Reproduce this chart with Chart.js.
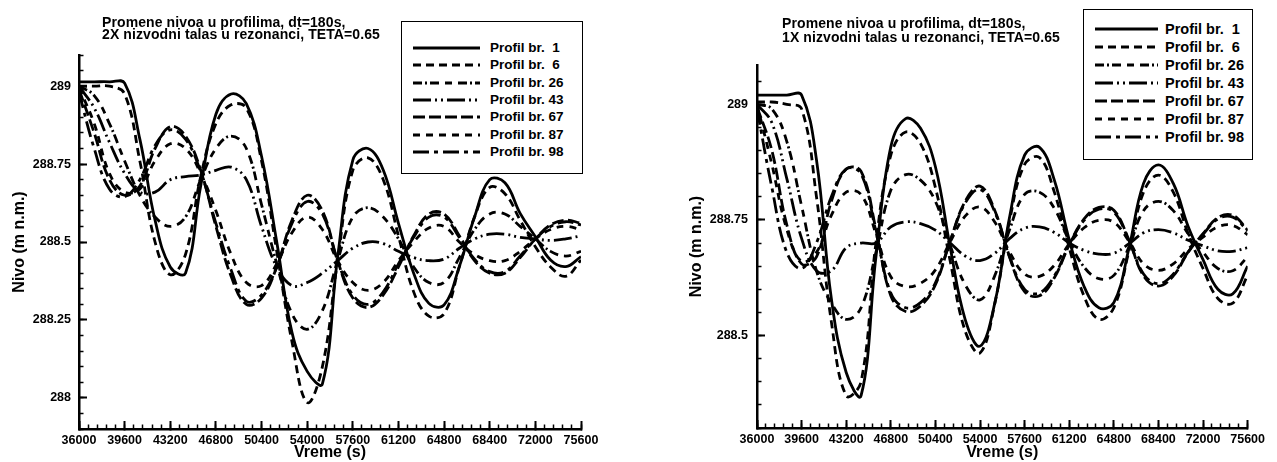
<!DOCTYPE html>
<html>
<head>
<meta charset="utf-8">
<script src="https://cdn.jsdelivr.net/npm/chart.js@4.4.1/dist/chart.umd.min.js"></script>
<style>
  html, body { margin:0; padding:0; background:#fff; }
  body { width:1277px; height:462px; position:relative; overflow:hidden; font-family:"Liberation Sans", Arial, Helvetica, sans-serif; color:#000; }
  canvas { position:absolute; top:0; }
  .ttl { position:absolute; font-weight:bold; font-size:14px; letter-spacing:0.1px; white-space:pre; line-height:12px; }
  .lbox { position:absolute; border:1.5px solid #000; box-sizing:border-box; background:#fff; }
  .ltxt { position:absolute; font-weight:bold; white-space:pre; line-height:16px; }
  .lsvg { position:absolute; overflow:visible; }
</style>
</head>
<body>
<canvas id="c1" width="640" height="462" style="left:0px"></canvas>
<canvas id="c2" width="637" height="462" style="left:640px"></canvas>
<div class="ttl" style="left:102px;top:15.5px;">Promene nivoa u profilima, dt=180s,
2X nizvodni talas u rezonanci, TETA=0.65</div>
<div class="ttl" style="left:782px;top:16px;line-height:14px;">Promene nivoa u profilima, dt=180s,
1X nizvodni talas u rezonanci, TETA=0.65</div>
<div id="leg1"></div>
<div id="leg2"></div>
<script>
// ---------------- data ----------------
const times = [36000, 37200, 38400, 39600, 40800, 42000, 43200, 44400, 45600, 46800, 48000, 49200,
  50400, 51600, 52800, 54000, 55200, 56400, 57600, 58800, 60000, 61200, 62400, 63600, 64800, 66000,
  67200, 68400, 69600, 70800, 72000, 73200, 74400, 75600];

const seriesNames = ['Profil br.  1', 'Profil br.  6', 'Profil br. 26', 'Profil br. 43',
  'Profil br. 67', 'Profil br. 87', 'Profil br. 98'];

// Left chart: 2X nizvodni talas
const left_p1 = [289.014, 289.014, 289.014, 289.01, 288.83, 288.57, 288.42, 288.40, 288.68, 288.91, 288.975, 288.944,
  288.775, 288.50, 288.21, 288.085, 288.045, 288.45, 288.763, 288.80, 288.731, 288.56, 288.40, 288.303, 288.298, 288.421,
  288.58, 288.70, 288.69, 288.592, 288.517, 288.442, 288.421, 288.453];
const left_p6 = [289.0, 289.0, 289.0, 288.975, 288.76, 288.50, 288.395, 288.46, 288.71, 288.88, 288.94, 288.93,
  288.76, 288.47, 288.18, 287.985, 288.10, 288.44, 288.73, 288.77, 288.70, 288.52, 288.34, 288.262, 288.27, 288.42,
  288.58, 288.675, 288.655, 288.57, 288.485, 288.42, 288.39, 288.442];
const left_p26 = [289.0, 288.97, 288.88, 288.76, 288.65, 288.58, 288.55, 288.58, 288.70, 288.80, 288.84, 288.80,
  288.62, 288.43, 288.27, 288.22, 288.28, 288.44, 288.58, 288.61, 288.58, 288.51, 288.42, 288.37, 288.37, 288.45,
  288.54, 288.59, 288.59, 288.55, 288.51, 288.47, 288.455, 288.47];
const left_p43 = [289.0, 288.93, 288.82, 288.72, 288.66, 288.66, 288.70, 288.71, 288.715, 288.73, 288.74, 288.70,
  288.55, 288.42, 288.36, 288.37, 288.40, 288.44, 288.48, 288.50, 288.495, 288.47, 288.45, 288.44, 288.445, 288.48,
  288.51, 288.525, 288.525, 288.515, 288.51, 288.505, 288.51, 288.52];
const left_p67 = [288.99, 288.85, 288.70, 288.65, 288.68, 288.80, 288.87, 288.84, 288.73, 288.55, 288.39, 288.30,
  288.32, 288.42, 288.57, 288.65, 288.60, 288.44, 288.32, 288.29, 288.33, 288.42, 288.52, 288.59, 288.59, 288.52,
  288.44, 288.40, 288.40, 288.45, 288.51, 288.555, 288.57, 288.56];
const left_p87 = [288.995, 288.88, 288.72, 288.66, 288.67, 288.76, 288.815, 288.80, 288.72, 288.60, 288.46, 288.37,
  288.36, 288.43, 288.53, 288.58, 288.54, 288.44, 288.37, 288.345, 288.37, 288.44, 288.50, 288.545, 288.55, 288.50,
  288.46, 288.44, 288.44, 288.47, 288.51, 288.54, 288.55, 288.54];
const left_p98 = [288.98, 288.80, 288.67, 288.645, 288.70, 288.81, 288.86, 288.83, 288.725, 288.56, 288.41, 288.31,
  288.33, 288.42, 288.56, 288.63, 288.59, 288.44, 288.33, 288.30, 288.34, 288.43, 288.515, 288.58, 288.58, 288.515,
  288.445, 288.405, 288.405, 288.455, 288.51, 288.55, 288.565, 288.555];

// Right chart: 1X nizvodni talas
const right_p1 = [289.02, 289.02, 289.02, 289.02, 288.88, 288.58, 288.42, 288.37, 288.67, 288.908, 288.969, 288.948,
  288.865, 288.69, 288.535, 288.477, 288.571, 288.758, 288.89, 288.907, 288.836, 288.707, 288.606, 288.56, 288.571, 288.686,
  288.829, 288.869, 288.829, 288.736, 288.664, 288.60, 288.59, 288.65];
const right_p6 = [289.005, 289.005, 289.0, 288.99, 288.80, 288.53, 288.37, 288.40, 288.70, 288.89, 288.94, 288.915,
  288.82, 288.66, 288.51, 288.462, 288.57, 288.75, 288.87, 288.885, 288.81, 288.69, 288.585, 288.535, 288.56, 288.68,
  288.81, 288.847, 288.81, 288.72, 288.645, 288.58, 288.57, 288.63];
const right_p26 = [289.0, 288.99, 288.92, 288.78, 288.64, 288.57, 288.535, 288.56, 288.68, 288.814, 288.848, 288.836,
  288.79, 288.695, 288.61, 288.577, 288.63, 288.73, 288.805, 288.81, 288.775, 288.704, 288.648, 288.623, 288.63, 288.69,
  288.77, 288.79, 288.77, 288.72, 288.68, 288.645, 288.64, 288.67];
const right_p43 = [289.0, 288.96, 288.84, 288.71, 288.64, 288.64, 288.69, 288.70, 288.70, 288.735, 288.746, 288.742,
  288.728, 288.70, 288.672, 288.662, 288.678, 288.71, 288.732, 288.735, 288.723, 288.70, 288.684, 288.676, 288.678, 288.698,
  288.722, 288.729, 288.722, 288.706, 288.694, 288.683, 288.682, 288.69];
const right_p67 = [288.995, 288.90, 288.74, 288.655, 288.67, 288.79, 288.86, 288.855, 288.73, 288.586, 288.552, 288.564,
  288.61, 288.705, 288.79, 288.823, 288.77, 288.668, 288.595, 288.586, 288.625, 288.696, 288.752, 288.777, 288.771, 288.708,
  288.629, 288.607, 288.629, 288.68, 288.72, 288.755, 288.76, 288.728];
const right_p87 = [289.0, 288.87, 288.73, 288.66, 288.68, 288.76, 288.81, 288.805, 288.72, 288.627, 288.606, 288.613,
  288.642, 288.703, 288.758, 288.778, 288.745, 288.68, 288.633, 288.628, 288.652, 288.698, 288.733, 288.749, 288.745, 288.705,
  288.655, 288.641, 288.655, 288.687, 288.713, 288.735, 288.738, 288.718];
const right_p98 = [288.99, 288.82, 288.68, 288.645, 288.70, 288.80, 288.86, 288.85, 288.725, 288.592, 288.56, 288.571,
  288.614, 288.705, 288.786, 288.816, 288.767, 288.67, 288.60, 288.592, 288.629, 288.696, 288.749, 288.773, 288.767, 288.707,
  288.633, 288.612, 288.633, 288.681, 288.719, 288.752, 288.756, 288.726];

// tick labels
const xTickLabels = [36000, 39600, 43200, 46800, 50400, 54000, 57600, 61200, 64800, 68400, 72000, 75600];
const yTickLabelsLeft = [288, 288.25, 288.5, 288.75, 289];
const yTickLabelsRight = [288.5, 288.75, 289];

// ---------------- styles ----------------
const FONT = '"Liberation Sans", Arial, Helvetica, sans-serif';
const lineDash = [[], [8, 5], [9, 3, 2, 3, 9, 6, 7, 6], [18, 4, 2, 4, 2, 4], [12, 4], [7, 6], [16, 5, 4, 5]];

Chart.defaults.font.family = FONT;
Chart.defaults.color = '#000';

function rangeTicks(a, b, step) {
  const out = [];
  const n = Math.round((b - a) / step);
  for (let i = 0; i <= n; i++) out.push(+(a + i * step).toFixed(4));
  return out;
}

function buildChart(id, seriesList, o) {
  const datasets = seriesList.map((arr, i) => ({
    label: seriesNames[i],
    data: times.map((t, k) => ({ x: t, y: arr[k] })),
    borderColor: '#000',
    borderWidth: 2.8,
    borderDash: lineDash[i],
    pointRadius: 0,
    tension: 0.4,
    fill: false
  }));
  const xMinor = rangeTicks(36000, 75600, 720);
  const yMinor = rangeTicks(o.yMinorStart, o.yMinorEnd, 0.05);
  return new Chart(document.getElementById(id), {
    type: 'line',
    data: { datasets },
    options: {
      responsive: false, animation: false, devicePixelRatio: 1,
      layout: { padding: o.padding },
      plugins: { legend: { display: false }, title: { display: false }, tooltip: { enabled: false } },
      scales: {
        x: {
          type: 'linear', position: 'bottom', min: 36000, max: 75600, weight: 1,
          afterBuildTicks: s => { s.ticks = xTickLabels.map(v => ({ value: v })); },
          afterFit: s => { s.height = o.xh; },
          ticks: { color: '#000', font: { size: 12.5, weight: 'bold' }, padding: 12, maxRotation: 0, autoSkip: false,
                   callback: v => String(v) },
          grid: { drawOnChartArea: false, drawTicks: true, tickLength: -8, tickWidth: 2, tickColor: '#000' },
          border: { display: true, color: '#000', width: 2.5 },
          title: { display: true, text: 'Vreme (s)', color: '#000', font: { size: 16, weight: 'bold' }, padding: { top: 0, bottom: 0 } }
        },
        xm: {
          type: 'linear', axis: 'x', position: 'bottom', min: 36000, max: 75600, weight: 0,
          afterBuildTicks: s => { s.ticks = xMinor.map(v => ({ value: v })); },
          afterFit: s => { s.height = 0; },
          ticks: { display: false },
          grid: { drawOnChartArea: false, drawTicks: true, tickLength: -4.5, tickWidth: 1.5, tickColor: '#000' },
          border: { display: false }
        },
        y: {
          type: 'linear', position: 'left', min: o.ymin, max: o.ymax, weight: 1,
          afterBuildTicks: s => { s.ticks = o.yTicks.map(v => ({ value: v })); },
          afterFit: s => { s.width = o.yw; },
          ticks: { color: '#000', font: { size: 12.5, weight: 'bold' }, padding: o.ypad, autoSkip: false,
                   callback: v => String(v) },
          grid: { drawOnChartArea: false, drawTicks: true, tickLength: -8, tickWidth: 2, tickColor: '#000' },
          border: { display: true, color: '#000', width: 2.5 },
          title: { display: true, text: 'Nivo (m n.m.)', color: '#000', font: { size: 16, weight: 'bold' }, padding: { top: o.ytitlePad, bottom: 0 } }
        },
        ym: {
          type: 'linear', axis: 'y', position: 'left', min: o.ymin, max: o.ymax, weight: 0,
          afterBuildTicks: s => { s.ticks = yMinor.map(v => ({ value: v })); },
          afterFit: s => { s.width = 0; },
          ticks: { display: false },
          grid: { drawOnChartArea: false, drawTicks: true, tickLength: -4.5, tickWidth: 1.5, tickColor: '#000' },
          border: { display: false }
        }
      }
    }
  });
}

buildChart('c1', [left_p1, left_p6, left_p26, left_p43, left_p67, left_p87, left_p98], {
  padding: { left: 0, right: 59, top: 55, bottom: 0 }, xh: 33, yw: 79, ypad: 16, ytitlePad: 9.5,
  ymin: 287.9, ymax: 289.1, yTicks: yTickLabelsLeft, yMinorStart: 287.9, yMinorEnd: 289.1
});
buildChart('c2', [right_p1, right_p6, right_p26, right_p43, right_p67, right_p87, right_p98], {
  padding: { left: 0, right: 20, top: 65, bottom: 0 }, xh: 34, yw: 117, ypad: 17, ytitlePad: 47,
  ymin: 288.3, ymax: 289.085, yTicks: yTickLabelsRight, yMinorStart: 288.3, yMinorEnd: 289.05
});

// ---------------- legends (HTML) ----------------
function buildLegend(el, box, rows) {
  let html = `<div class="lbox" style="left:${box.x}px;top:${box.y}px;width:${box.w}px;height:${box.h}px;"></div>`;
  seriesNames.forEach((name, i) => {
    const cy = rows.y0 + i * rows.dy;
    const dash = lineDash[i].length ? `stroke-dasharray="${lineDash[i].join(' ')}"` : '';
    html += `<svg class="lsvg" width="${rows.lw}" height="8" style="left:${rows.lx}px;top:${(cy - 4).toFixed(1)}px;">` +
            `<line x1="0" y1="4" x2="${rows.lw}" y2="4" stroke="#000" stroke-width="3" ${dash}/></svg>`;
    html += `<div class="ltxt" style="left:${rows.tx}px;top:${(cy - 8).toFixed(1)}px;font-size:${rows.fs}px;">${name}</div>`;
  });
  el.innerHTML = html;
}
buildLegend(document.getElementById('leg1'), { x: 401, y: 21, w: 182, h: 153 },
  { y0: 48, dy: 17.33, lx: 413, lw: 67, tx: 490, fs: 13.5 });
buildLegend(document.getElementById('leg2'), { x: 1083, y: 9, w: 170, h: 151 },
  { y0: 29, dy: 18, lx: 1095, lw: 63, tx: 1165, fs: 14.5 });
</script>
</body>
</html>
